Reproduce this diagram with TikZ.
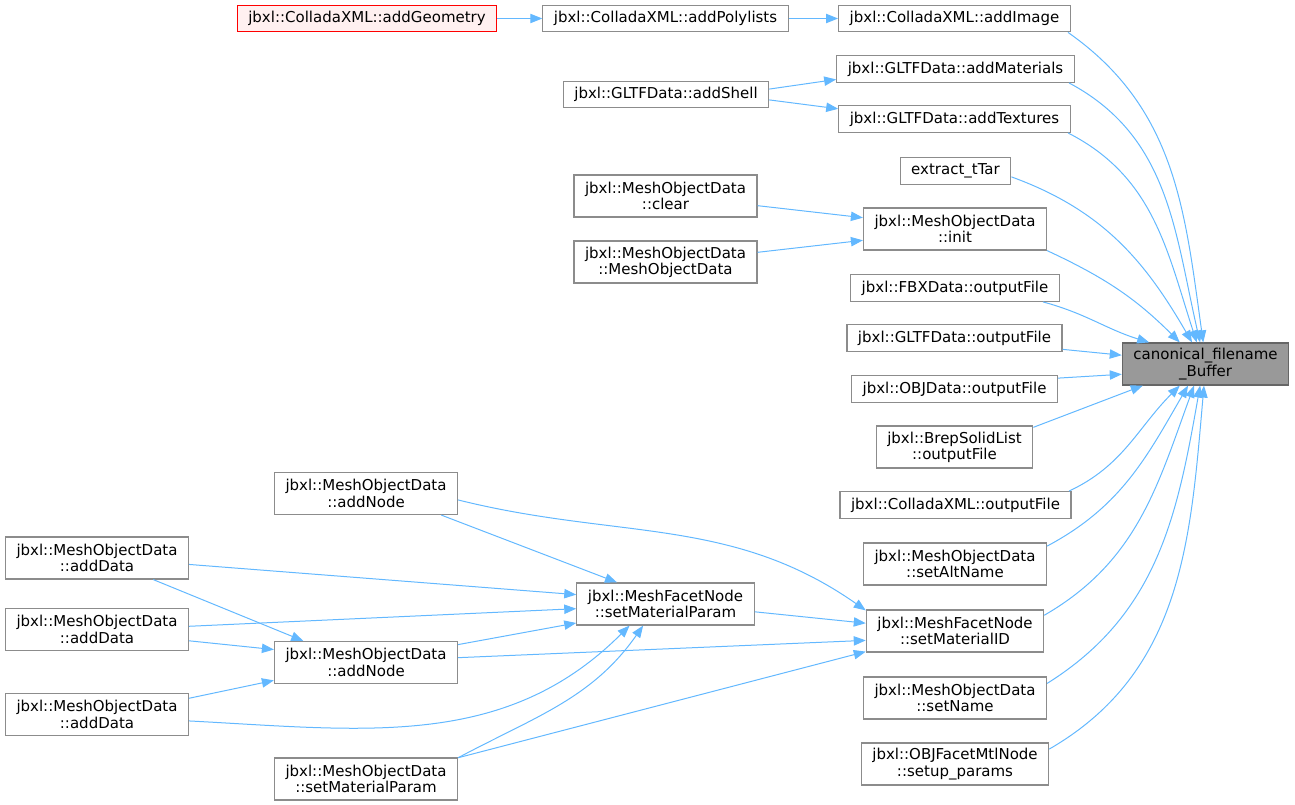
\documentclass[tikz,border=0pt]{standalone}
\usepackage{fontspec}
\setmainfont{DejaVu Sans}
\usepackage{tikz}
\usetikzlibrary{arrows.meta}
\definecolor{edgeblue}{HTML}{63B8FF}
\definecolor{boxgray}{HTML}{8C8C8C}
\definecolor{hitgray}{HTML}{999999}
\definecolor{hitline}{HTML}{666666}
\definecolor{redfill}{HTML}{FFF0F0}
\tikzset{fn/.style={draw=boxgray, fill=white, line width=0.9pt, inner xsep=8.25pt, inner ysep=0pt, minimum height=20pt, align=center, font=\fontsize{11.25}{12.2}\selectfont}}
\tikzset{fn2/.style={fn, minimum height=31.5pt}}
\tikzset{calls/.style={draw=edgeblue, line width=0.75pt, -{Triangle[length=9pt,width=7pt]}}}

\begin{document}
\begin{tikzpicture}[x=0.75pt,y=-0.75pt]
\useasboundingbox (0,0) rectangle (1295,805);
\node[fn, draw=red, fill=redfill] (geo) at (367,18.5) {jbxl::ColladaXML::addGeometry};
\node[fn] (poly) at (665.5,18.5) {jbxl::ColladaXML::addPolylists};
\node[fn] (img) at (954.5,18.5) {jbxl::ColladaXML::addImage};
\node[fn] (mat) at (955.5,69) {jbxl::GLTFData::addMaterials};
\node[fn] (shell) at (666,94.5) {jbxl::GLTFData::addShell};
\node[fn] (tex) at (954.5,119) {jbxl::GLTFData::addTextures};
\node[fn] (tar) at (955.5,171) {extract\_tTar};
\node[fn2] (clr) at (665.5,196) {jbxl::MeshObjectData\\::clear};
\node[fn2] (ctor) at (665.5,262) {jbxl::MeshObjectData\\::MeshObjectData};
\node[fn2] (init) at (955,229) {jbxl::MeshObjectData\\::init};
\node[fn] (fbx) at (955,288) {jbxl::FBXData::outputFile};
\node[fn] (gltf) at (954.5,338) {jbxl::GLTFData::outputFile};
\node[fn2, fill=hitgray, draw=hitline] (buf) at (1205.5,364) {canonical\_filename\\\_Buffer};
\node[fn] (obj) at (954.5,389) {jbxl::OBJData::outputFile};
\node[fn2] (brep) at (954.5,447) {jbxl::BrepSolidList\\::outputFile};
\node[fn] (dae) at (955.5,505) {jbxl::ColladaXML::outputFile};
\node[fn2] (alt) at (955,564) {jbxl::MeshObjectData\\::setAltName};
\node[fn2] (mid) at (955,631) {jbxl::MeshFacetNode\\::setMaterialID};
\node[fn2] (nam) at (955,698) {jbxl::MeshObjectData\\::setName};
\node[fn2] (mtl) at (955,764) {jbxl::OBJFacetMtlNode\\::setup\_params};
\node[fn2] (an1) at (366,493.5) {jbxl::MeshObjectData\\::addNode};
\node[fn2] (mp) at (665.5,604) {jbxl::MeshFacetNode\\::setMaterialParam};
\node[fn2] (ad1) at (97,558) {jbxl::MeshObjectData\\::addData};
\node[fn2] (ad2) at (97,629.5) {jbxl::MeshObjectData\\::addData};
\node[fn2] (an2) at (366,662.5) {jbxl::MeshObjectData\\::addNode};
\node[fn2] (ad3) at (97,714.5) {jbxl::MeshObjectData\\::addData};
\node[fn2] (smp) at (366,779) {jbxl::MeshObjectData\\::setMaterialParam};

\draw[calls] (geo.east) -- (poly.west);
\draw[calls] (poly.east) -- (img.west);
\draw[calls] (shell.3.6) -- (mat.-175.7);
\draw[calls] (shell.-3.6) -- (tex.175.7);
\draw[calls] (clr.-6.8) -- (init.173.8);
\draw[calls] (ctor.6.2) -- (init.-173.2);
\draw[calls] (img.-7.5) to[out=-35,in=98] (buf.96.8);
\draw[calls] (mat.-7.4) to[out=-28,in=103] (buf.104.7);
\draw[calls] (tex.-7.5) to[out=-27,in=108] (buf.112);
\draw[calls] (tar.-6) to[out=-20,in=120] (buf.122.7);
\draw[calls] (init.south east) to[out=-25,in=135] (buf.140.5);
\draw[calls] (fbx.-9.8) to[out=-15,in=163] (buf.159.3);
\draw[calls] (gltf.-6.3) -- (buf.174.5);
\draw[calls] (obj.6.1) -- (buf.-173.8);
\draw[calls] (brep.14) -- (buf.-161.4);
\draw[calls] (dae.7.8) to[out=25,in=-135] (buf.-140.5);
\draw[calls] (alt.11.7) to[out=28,in=-120] (buf.-129.8);
\draw[calls] (mid.10) to[out=30,in=-110] (buf.-118.7);
\draw[calls] (nam.9.9) to[out=32,in=-100] (buf.-104.7);
\draw[calls] (mtl.9.9) to[out=30,in=-95] (buf.-94);
\draw[calls] (an1.-16.1) -- (mp.156.3);
\draw[calls] (an1.-4) to[out=-14,in=145] (mid.167.5);
\draw[calls] (ad1.-4.4) -- (mp.174.9);
\draw[calls] (ad1.-21) -- (an2.161.2);
\draw[calls] (ad2.2.8) -- (mp.-177.4);
\draw[calls] (ad2.-7.1) -- (an2.172.9);
\draw[calls] (ad3.10.8) -- (an2.-169.2);
\draw[calls] (ad3.-4.7) to[out=-3,in=-135] (mp.-149.3);
\draw[calls] (an2.11.6) -- (mp.-168.3);
\draw[calls] (an2.3.1) -- (mid.-174.8);
\draw[calls] (mp.-5.7) -- (mid.175.5);
\draw[calls] (smp.13) to[out=28,in=-125] (mp.-136.3);
\draw[calls] (smp.13) -- (mid.-167);
\end{tikzpicture}
\end{document}
